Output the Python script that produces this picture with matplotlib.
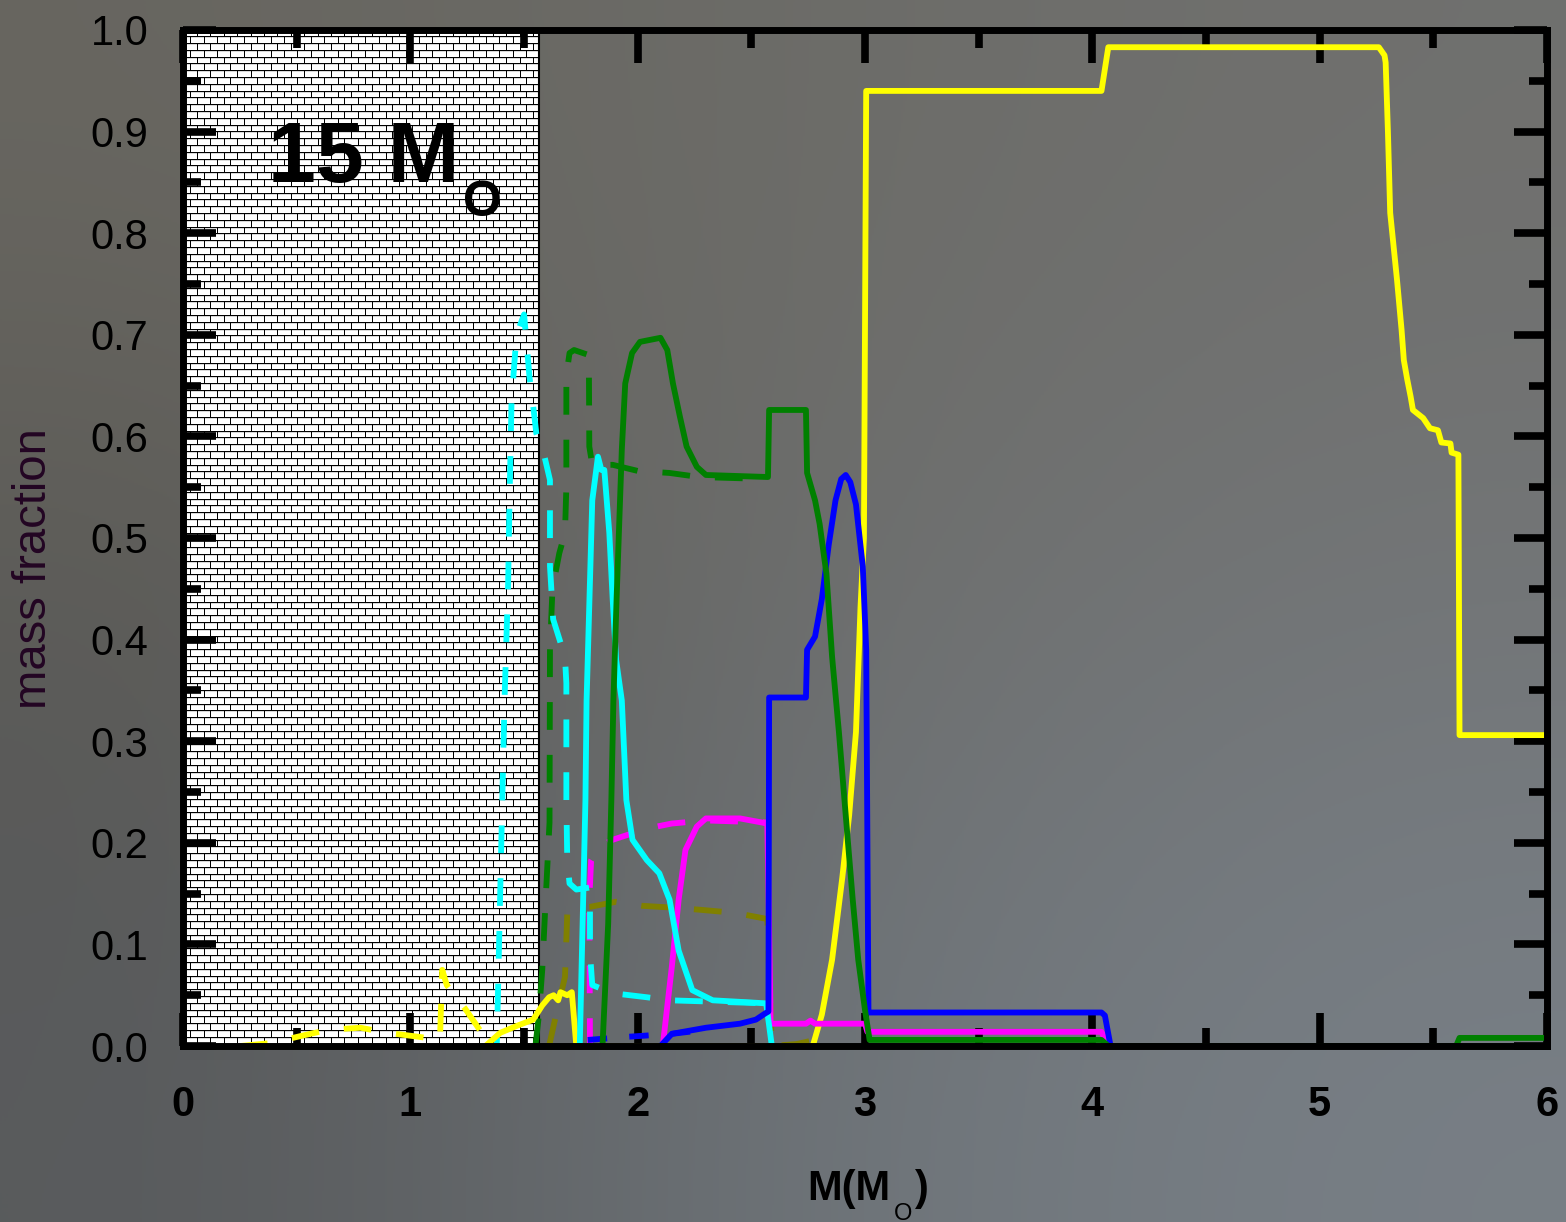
import numpy as np
import matplotlib.pyplot as plt
from matplotlib.patches import Rectangle

plt.rcParams['font.family'] = ['Liberation Sans', 'DejaVu Sans']
plt.rcParams['lines.scale_dashes'] = False

# mass coordinate of the hatched (remnant) region
core_edge = 1.566

# ---- solid lines ----
yellow_x = [1.33, 1.395, 1.47, 1.54, 1.58, 1.61, 1.63, 1.65, 1.66, 1.69, 1.71, 1.73, 1.75, 2.77, 2.81, 2.855,
            2.90, 2.93, 2.96, 2.98, 2.995, 3.005, 4.04, 4.07, 5.26, 5.285, 5.29, 5.30, 5.31, 5.34, 5.36, 5.37,
            5.385, 5.40, 5.41, 5.455, 5.485, 5.52, 5.535, 5.575, 5.58, 5.61, 5.615, 6.0]
yellow_y = [0.0, 0.013, 0.02, 0.026, 0.04, 0.048, 0.05, 0.045, 0.053, 0.05, 0.053, 0.0, 0.0, 0.0, 0.031, 0.085,
            0.166, 0.227, 0.309, 0.432, 0.50, 0.94, 0.94, 0.983, 0.983, 0.975, 0.968, 0.90, 0.82, 0.754, 0.705,
            0.675, 0.656, 0.639, 0.626, 0.618, 0.608, 0.606, 0.594, 0.593, 0.584, 0.582, 0.306, 0.306]

green_x = [1.845, 1.87, 1.884, 1.893, 1.907, 1.93, 1.945, 1.975, 2.01, 2.10, 2.13, 2.155, 2.185, 2.215, 2.26,
           2.30, 2.573, 2.578, 2.74, 2.745, 2.78, 2.80, 2.83, 2.855, 2.885, 2.915, 2.945, 2.97, 3.0, 3.02,
           4.04, 4.07, 5.60, 5.615, 6.0]
green_y = [0.0, 0.12, 0.242, 0.34, 0.44, 0.587, 0.652, 0.682, 0.693, 0.697, 0.685, 0.652, 0.62, 0.59, 0.57,
           0.562, 0.56, 0.626, 0.626, 0.564, 0.537, 0.514, 0.465, 0.383, 0.309, 0.227, 0.146, 0.085, 0.035, 0.006,
           0.006, 0.0, 0.0, 0.008, 0.008]

blue_x = [2.10, 2.15, 2.30, 2.45, 2.52, 2.56, 2.575, 2.578, 2.74, 2.745, 2.78, 2.81, 2.84, 2.87, 2.895, 2.915,
          2.935, 2.96, 2.99, 3.005, 3.015, 4.04, 4.055, 4.08]
blue_y = [0.0, 0.012, 0.018, 0.022, 0.026, 0.032, 0.034, 0.343, 0.343, 0.39, 0.403, 0.44, 0.493, 0.537, 0.558,
          0.562, 0.555, 0.533, 0.472, 0.39, 0.033, 0.033, 0.03, 0.0]

cyan_x = [1.745, 1.76, 1.77, 1.775, 1.80, 1.825, 1.84, 1.853, 1.875, 1.89, 1.905, 1.93, 1.95, 1.977, 2.04,
          2.095, 2.14, 2.18, 2.24, 2.33, 2.565, 2.59]
cyan_y = [0.0, 0.144, 0.242, 0.34, 0.537, 0.58, 0.567, 0.567, 0.505, 0.439, 0.38, 0.34, 0.242, 0.203, 0.183,
          0.17, 0.144, 0.094, 0.055, 0.045, 0.042, 0.0]

magenta_x = [2.11, 2.15, 2.18, 2.21, 2.26, 2.30, 2.45, 2.57, 2.585, 2.74, 2.76, 2.78, 3.0, 3.01, 4.04, 4.07]
magenta_y = [0.0, 0.078, 0.144, 0.193, 0.216, 0.224, 0.224, 0.219, 0.022, 0.022, 0.025, 0.022, 0.022, 0.014,
             0.014, 0.0]

# ---- dashed lines ----
green_d_x = [1.55, 1.565, 1.58, 1.595, 1.612, 1.614, 1.625, 1.655, 1.68, 1.686, 1.686, 1.70, 1.72, 1.785, 1.787,
             1.80, 1.89, 2.0, 2.14, 2.27, 2.57]
green_d_y = [0.0, 0.03, 0.075, 0.144, 0.22, 0.39, 0.45, 0.485, 0.505, 0.55, 0.66, 0.682, 0.685, 0.68, 0.59,
             0.572, 0.572, 0.566, 0.564, 0.56, 0.558]

cyan_d_x = [1.30, 1.38, 1.39, 1.40, 1.414, 1.43, 1.436, 1.445, 1.467, 1.50, 1.51, 1.524, 1.537, 1.554, 1.59,
            1.614, 1.614, 1.628, 1.68, 1.686, 1.686, 1.69, 1.70, 1.73, 1.79, 1.79, 1.79, 1.80, 1.89, 2.04, 2.14,
            2.57]
cyan_d_y = [0.0, 0.0, 0.1, 0.2, 0.34, 0.456, 0.537, 0.636, 0.70, 0.72, 0.695, 0.658, 0.636, 0.603, 0.58,
            0.557, 0.472, 0.42, 0.383, 0.357, 0.242, 0.183, 0.16, 0.154, 0.156, 0.144, 0.092, 0.06, 0.052, 0.048,
            0.045, 0.042]

magenta_d_x = [1.79, 1.787, 1.795, 1.83, 1.89, 2.04, 2.15, 2.30, 2.57]
magenta_d_y = [0.0, 0.144, 0.183, 0.196, 0.203, 0.214, 0.219, 0.222, 0.22]

olive_d_x = [1.61, 1.64, 1.68, 1.69, 1.72, 1.79, 1.905, 2.02, 2.17, 2.28, 2.43, 2.57, 2.59, 2.70, 2.78, 2.82]
olive_d_y = [0.0, 0.03, 0.068, 0.13, 0.136, 0.137, 0.142, 0.138, 0.136, 0.134, 0.131, 0.125, 0.0, 0.002,
             0.006, 0.012]

yellow_d_x = [0.25, 0.39, 0.52, 0.64, 0.78, 0.90, 1.04, 1.13, 1.14, 1.16, 1.24, 1.32, 1.36]
yellow_d_y = [0.0, 0.003, 0.01, 0.016, 0.018, 0.013, 0.009, 0.006, 0.075, 0.06, 0.037, 0.011, 0.0]

blue_d_x = [1.78, 1.95, 2.15, 2.30]
blue_d_y = [0.006, 0.009, 0.012, 0.016]

x_ticks = [0, 1, 2, 3, 4, 5, 6]
y_ticks = [0.0, 0.1, 0.2, 0.3, 0.4, 0.5, 0.6, 0.7, 0.8, 0.9, 1.0]


def brick_texture(w, h, bw=13.4, bh=6.8):
    yy, xx = np.mgrid[0:h, 0:w].astype(float)
    row = np.floor(yy / bh)
    v = yy - row * bh
    u = (xx + (row % 2) * bw / 2) % bw
    img = np.ones((h, w))
    img[v < 2.0] = 0.85
    img[v < 1.0] = 0.0
    img[u < 1.0] = 0.0
    return img


fig = plt.figure(figsize=(15.66, 12.22), dpi=100)

# chalkboard-like background
bg = fig.add_axes([0, 0, 1, 1], zorder=-10)
board = np.array([[[104, 102, 96], [108, 108, 104], [112, 112, 110]],
                  [[90, 89, 85], [110, 111, 110], [115, 118, 120]],
                  [[88, 90, 92], [110, 116, 121], [120, 127, 134]]]) / 255
bg.imshow(board, interpolation='bicubic', aspect='auto', extent=[0, 1, 0, 1])
bg.axis('off')

ax = fig.add_axes([0.1169, 0.144, 0.871, 0.8315])
ax.set_facecolor('none')

ax.imshow(brick_texture(356, 1016), cmap='gray', vmin=0, vmax=1, interpolation='nearest',
          extent=[0, core_edge, 0, 1], aspect='auto', zorder=0.5)
ax.add_patch(Rectangle((0, 0), core_edge, 1, fill=False, edgecolor='black', lw=1.5, zorder=0.6))

lw = 4.2
dash = (20, 18)
ax.plot(olive_d_x, olive_d_y, color='#808000', lw=lw, dashes=dash)
ax.plot(magenta_d_x, magenta_d_y, color='#ff00ff', lw=lw, dashes=dash)
ax.plot(green_d_x, green_d_y, color='#008000', lw=lw, dashes=dash)
ax.plot(cyan_d_x, cyan_d_y, color='#00ffff', lw=lw, dashes=dash)
ax.plot(yellow_d_x, yellow_d_y, color='#ffff00', lw=lw, dashes=dash)
ax.plot(blue_d_x, blue_d_y, color='#0000ff', lw=lw, dashes=(14, 16))

ax.plot(yellow_x, yellow_y, color='#ffff00', lw=lw)
ax.plot(magenta_x, magenta_y, color='#ff00ff', lw=lw)
ax.plot(cyan_x, cyan_y, color='#00ffff', lw=lw)
ax.plot(blue_x, blue_y, color='#0000ff', lw=lw)
ax.plot(green_x, green_y, color='#008000', lw=lw)

ax.set_xlim(0, 6)
ax.set_ylim(0, 1)
ax.set_xticks(x_ticks)
ax.set_xticks(np.arange(0.5, 6, 1.0), minor=True)
ax.set_yticks(y_ticks)
ax.set_yticks(np.arange(0.05, 1.0, 0.1), minor=True)
ax.set_yticklabels([f'{v:.1f}' for v in y_ticks])
ax.set_xticklabels([str(v) for v in x_ticks], fontweight='bold')

for s in ax.spines.values():
    s.set_linewidth(5)
    s.set_color('black')
    s.set_zorder(5)
ax.tick_params(which='both', direction='in', top=True, right=True, width=5.5, colors='black')
ax.tick_params(which='major', length=24)
ax.tick_params(which='minor', length=13)
ax.tick_params(axis='x', which='major', labelsize=30, pad=28)
ax.tick_params(axis='y', which='major', labelsize=30, pad=25)

ax.set_ylabel('mass fraction', fontsize=34, color='#230523')
ax.yaxis.set_label_coords(-0.093, 0.47)

# x label M(M_O)
ax.text(0.4575, -0.1516, 'M(M', transform=ax.transAxes, fontsize=30, fontweight='bold',
        va='baseline', ha='left')
ax.text(0.521, -0.1545, 'O', transform=ax.transAxes, fontsize=17, va='top', ha='left')
ax.text(0.5367, -0.1516, ')', transform=ax.transAxes, fontsize=30, fontweight='bold',
        va='baseline', ha='left')

# model label 15 M_O
ax.text(0.062, 0.850, '15 M', transform=ax.transAxes, fontsize=62, fontweight='bold',
        va='baseline', ha='left', zorder=6)
ax.text(0.2055, 0.852, 'O', transform=ax.transAxes, fontsize=36, fontweight='bold',
        va='top', ha='left', zorder=6)

fig.savefig('out.png', dpi=100)
